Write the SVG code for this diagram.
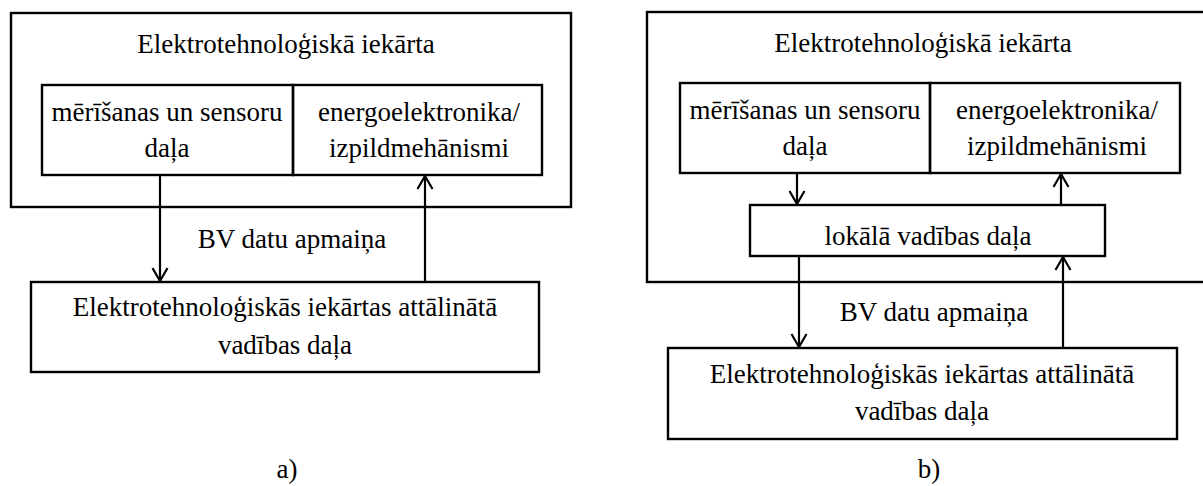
<svg xmlns="http://www.w3.org/2000/svg" width="1203" height="486" viewBox="0 0 1203 486">
<style>
.box{fill:none;stroke:#000;stroke-width:2.4}
.ln{fill:none;stroke:#000;stroke-width:2.2}
text{font-family:"Liberation Serif","Times New Roman",serif;font-size:27px;fill:#000;text-anchor:middle}
</style>
<defs>
<marker id="ah" markerUnits="userSpaceOnUse" markerWidth="16" markerHeight="18" viewBox="0 0 16 18" refX="14" refY="9" orient="auto">
<path d="M1,1.5 L14,9 L1,16.5" fill="none" stroke="#000" stroke-width="2.2"/>
</marker>
</defs>
<rect width="1203" height="486" fill="#fff"/>

<!-- Diagram a -->
<g id="a-device">
<rect class="box" x="11" y="13" width="560" height="194"/>
<text x="286" y="53">Elektrotehnoloģiskā iekārta</text>
</g>
<g id="a-sensors">
<rect class="box" x="42" y="85" width="251" height="90"/>
<text x="167" y="121">mērīšanas un sensoru</text>
<text x="167" y="157">daļa</text>
</g>
<g id="a-power">
<rect class="box" x="293" y="85" width="249" height="90"/>
<text x="419" y="121">energoelektronika/</text>
<text x="419" y="157">izpildmehānismi</text>
</g>
<g id="a-remote">
<rect class="box" x="31" y="282" width="508" height="90"/>
<text x="285" y="316">Elektrotehnoloģiskās iekārtas attālinātā</text>
<text x="285" y="354">vadības daļa</text>
</g>
<g id="a-connectors">
<line class="ln" x1="160" y1="175" x2="160" y2="281" marker-end="url(#ah)"/>
<line class="ln" x1="425" y1="282" x2="425" y2="176" marker-end="url(#ah)"/>
<text x="292" y="248">BV datu apmaiņa</text>
</g>
<text x="287" y="478">a)</text>

<!-- Diagram b -->
<g id="b-device">
<rect class="box" x="647" y="12" width="570" height="270"/>
<text x="923" y="52">Elektrotehnoloģiskā iekārta</text>
</g>
<g id="b-sensors">
<rect class="box" x="680" y="83" width="250" height="90"/>
<text x="805" y="119">mērīšanas un sensoru</text>
<text x="805" y="155">daļa</text>
</g>
<g id="b-power">
<rect class="box" x="930" y="83" width="250" height="90"/>
<text x="1057" y="119">energoelektronika/</text>
<text x="1057" y="155">izpildmehānismi</text>
</g>
<g id="b-local">
<rect class="box" x="750" y="205" width="355" height="51"/>
<text x="928" y="245">lokālā vadības daļa</text>
</g>
<g id="b-remote">
<rect class="box" x="668" y="348" width="509" height="91"/>
<text x="922" y="383">Elektrotehnoloģiskās iekārtas attālinātā</text>
<text x="922" y="420">vadības daļa</text>
</g>
<g id="b-connectors">
<line class="ln" x1="797" y1="173" x2="797" y2="204" marker-end="url(#ah)"/>
<line class="ln" x1="1061" y1="205" x2="1061" y2="174" marker-end="url(#ah)"/>
<line class="ln" x1="799" y1="256" x2="799" y2="347" marker-end="url(#ah)"/>
<line class="ln" x1="1063" y1="348" x2="1063" y2="257" marker-end="url(#ah)"/>
<text x="934" y="321">BV datu apmaiņa</text>
</g>
<text x="929" y="478">b)</text>
</svg>
